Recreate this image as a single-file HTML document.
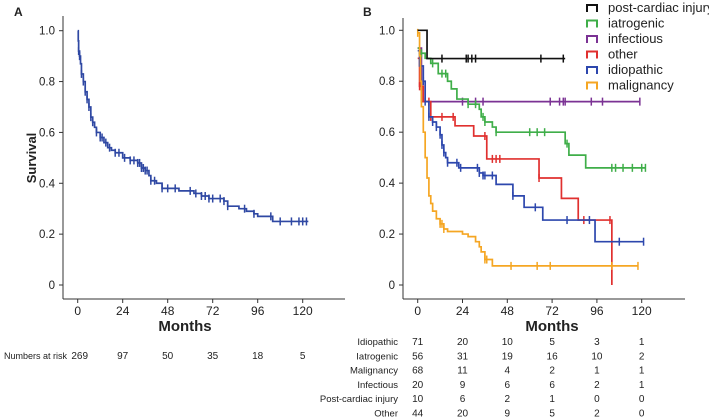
<!DOCTYPE html>
<html><head><meta charset="utf-8">
<style>
body{margin:0;background:#fff;font-family:"Liberation Sans",Arial,sans-serif;}
svg{display:block}
text{font-family:"Liberation Sans",Arial,sans-serif;fill:#222}
</style></head>
<body>
<svg id="c" width="709" height="418" viewBox="0 0 709 418"></svg>
<script>
// ---- Panel A data ----
const aTimes=[0,0.3,0.5,1,1.5,2,3,4,5,6,7,8,9,10,12,14,16,18,20,24,28,32,34,36,38,39,42,45,54,62,66,70,78,80,86,90,94,96,104,123];
const aSurv=[1.0,0.96,0.92,0.90,0.87,0.83,0.80,0.76,0.73,0.70,0.66,0.64,0.62,0.60,0.58,0.56,0.54,0.53,0.52,0.50,0.49,0.48,0.46,0.45,0.43,0.41,0.40,0.38,0.37,0.36,0.35,0.34,0.33,0.31,0.30,0.29,0.28,0.27,0.25,0.25];
const aCens=[0.5,1,2,3,4,5,6,7,8,10,12,13,15,17,20,22,25,28,30,32,33,34,35,36,37,39,41,45,48,52,60,63,66,68,70,72,76,78,80,89,94,103,108,114,118,120,122];
const aRisk=["269","97","50","35","18","5"];
const xTicks=[0,24,48,72,96,120];
const yTicks=[0,0.2,0.4,0.6,0.8,1.0];
const yTickLabels=["0","0.2","0.4","0.6","0.8","1.0"];
// ---- Panel B data ----
const seriesNames=["post-cardiac injury","iatrogenic","infectious","other","idiopathic","malignancy"];
const seriesColors=["#111111","#3fae49","#7b3294","#e0302f","#2d47ad","#f5a623"];
const pcTimes=[0,5,79], pcSurv=[1.0,0.889,0.889], pcCens=[13,26,27,29,31,66,78];
const iaTimes=[0,1,4,7,11,16,18,21,27,33,34,36,40,42,79,81,90,122], iaSurv=[0.93,0.91,0.89,0.87,0.83,0.80,0.77,0.73,0.71,0.69,0.66,0.64,0.62,0.60,0.555,0.51,0.46,0.46], iaCens=[2,8,13,15,27,31,35,36,42,60,64,68,80,104,106,110,115,120,122];
const inTimes=[0,2,119], inSurv=[0.93,0.72,0.72], inCens=[24,31,35,71,76,78,79,93,99,119];
const otTimes=[0,1,3,7,20,30,37,65,77,86,104,104.01], otSurv=[0.89,0.78,0.72,0.66,0.625,0.585,0.495,0.42,0.34,0.255,0.255,0], otCens=[1,2,6,7,13,19,36,40,42,44,65,89,103];
const idTimes=[0,1,3,4,6,8,10,12,13,14,15,16,22,33,35,42,51,57,67,95,121], idSurv=[0.92,0.86,0.80,0.72,0.66,0.64,0.62,0.59,0.55,0.52,0.50,0.48,0.46,0.44,0.43,0.395,0.35,0.305,0.255,0.17,0.17], idCens=[3,4,6,8,10,12,13,14,16,21,23,32,33,35,36,40,51,63,80,92,108,121];
const maTimes=[0,1,1.5,2,3,4,5,6,7,8,10,12,14,16,24,27,31,33,34,36,40,118], maSurv=[0.99,0.90,0.80,0.70,0.60,0.50,0.42,0.35,0.32,0.29,0.26,0.24,0.22,0.21,0.20,0.19,0.17,0.15,0.13,0.10,0.075,0.075], maCens=[0,12,13,14,36,37,50,64,71,104,118];
const rowLabels=["Idiopathic","Iatrogenic","Malignancy","Infectious","Post-cardiac injury","Other"];
const riskIdio=["71","20","10","5","3","1"];
const riskIatro=["56","31","19","16","10","2"];
const riskMalig=["68","11","4","2","1","1"];
const riskInfec=["20","9","6","6","2","1"];
const riskPost=["10","6","2","1","0","0"];
const riskOther=["44","20","9","5","2","0"];

const NS="http://www.w3.org/2000/svg";
const svg=document.getElementById('c');
function mk(tag,attrs,parent){const e=document.createElementNS(NS,tag);for(const k in attrs)e.setAttribute(k,attrs[k]);(parent||svg).appendChild(e);return e;}
function txt(s,x,y,attrs,name){const t=mk('text',Object.assign({x:x,y:y,'font-size':11},attrs));t.textContent=s;

return t;}

function panel(p){
  const sx=t=>p.x0+t*(p.x120-p.x0)/120;
  const sy=v=>p.y0-v*(p.y0-p.y1);
  const g=mk('g',{});
  
  
  mk('line',{x1:p.ax,y1:p.top,x2:p.ax,y2:p.bot,stroke:'#333','stroke-width':1},g);
  mk('line',{x1:p.ax,y1:p.bot,x2:p.right,y2:p.bot,stroke:'#333','stroke-width':1},g);
  xTicks.forEach((t,i)=>{mk('line',{x1:sx(t),y1:p.bot,x2:sx(t),y2:p.bot+4,stroke:'#333'},g);
    txt(String(t),sx(t),p.bot+16,{'text-anchor':'middle','font-size':12},'x-tick-label');});
  yTicks.forEach((v,i)=>{mk('line',{x1:p.ax-4,y1:sy(v),x2:p.ax,y2:sy(v),stroke:'#333'},g);
    txt(yTickLabels[i],p.ax-8,sy(v)+4,{'text-anchor':'end','font-size':11.5},'y-tick-label');});
  return {sx,sy,g};
}
function curve(ax,times,surv,cens,color,name){
  let d='M'+ax.sx(times[0])+','+ax.sy(surv[0]);
  for(let i=1;i<times.length;i++){d+=' H'+ax.sx(times[i])+' V'+ax.sy(surv[i]);}
  const p=mk('path',{d:d,fill:'none',stroke:color,'stroke-width':1.7},ax.g);
  
  
  cens.forEach(c=>{let v=surv[0];for(let i=0;i<times.length;i++){if(times[i]<=c)v=surv[i];}
    if(c>=times[times.length-1]&&surv[surv.length-1]===0)v=surv[surv.length-2];
    const m=mk('line',{x1:ax.sx(c),y1:ax.sy(v)-4,x2:ax.sx(c),y2:ax.sy(v)+4,stroke:color,'stroke-width':1.5},ax.g);
    
    });
}
// Panel A
txt('A',14,16,{'font-weight':'bold','font-size':12},'panel-a-label');
const A=panel({name:'panel-a-chart',x0:77.7,x120:302.7,y0:285,y1:30.7,ax:63,top:16,bot:299,right:345});
curve(A,aTimes,aSurv,aCens,'#2f48a3','overall-survival');
txt('Survival',36,158,{'font-weight':'bold','font-size':13,'text-anchor':'middle',transform:'rotate(-90 36 158)'},'y-axis-title');
txt('Months',185,331,{'font-weight':'bold','font-size':15,'text-anchor':'middle'},'x-axis-title-a');
txt('Numbers at risk',4,359,{'font-size':9},'risk-table-label');
aRisk.forEach((r,i)=>txt(r,A.sx(xTicks[i])+(i===0?2:0),359,{'font-size':10,'text-anchor':'middle'},'risk-count'));
// Panel B
txt('B',363,16,{'font-weight':'bold','font-size':12},'panel-b-label');
const B=panel({name:'panel-b-chart',x0:417.7,x120:641.7,y0:285,y1:30.3,ax:403,top:18,bot:299,right:685});
const allT=[pcTimes,iaTimes,inTimes,otTimes,idTimes,maTimes],allS=[pcSurv,iaSurv,inSurv,otSurv,idSurv,maSurv],allC=[pcCens,iaCens,inCens,otCens,idCens,maCens];
const order=[2,1,3,4,5,0];
order.forEach(i=>curve(B,allT[i],allS[i],allC[i],seriesColors[i],seriesNames[i].replace(/ /g,'-')));
txt('Months',552,331,{'font-weight':'bold','font-size':15,'text-anchor':'middle'},'x-axis-title-b');
// legend
seriesNames.forEach((n,i)=>{const y=7+i*15.5;
  const p=mk('path',{d:`M587,${y+5} V${y-2} H597 V${y+5}`,fill:'none',stroke:seriesColors[i],'stroke-width':2});
  
  
  txt(n,608,y+5,{'font-size':13},'legend-entry');});
// risk table B
const riskRows=[riskIdio,riskIatro,riskMalig,riskInfec,riskPost,riskOther];
rowLabels.forEach((l,r)=>{const y=345+r*14.3;
  txt(l,398,y,{'font-size':9.5,'text-anchor':'end'},'risk-row-label');
  riskRows[r].forEach((v,i)=>txt(v,B.sx(xTicks[i]),y,{'font-size':10,'text-anchor':'middle'},'risk-count'));});
</script>
</body></html>
